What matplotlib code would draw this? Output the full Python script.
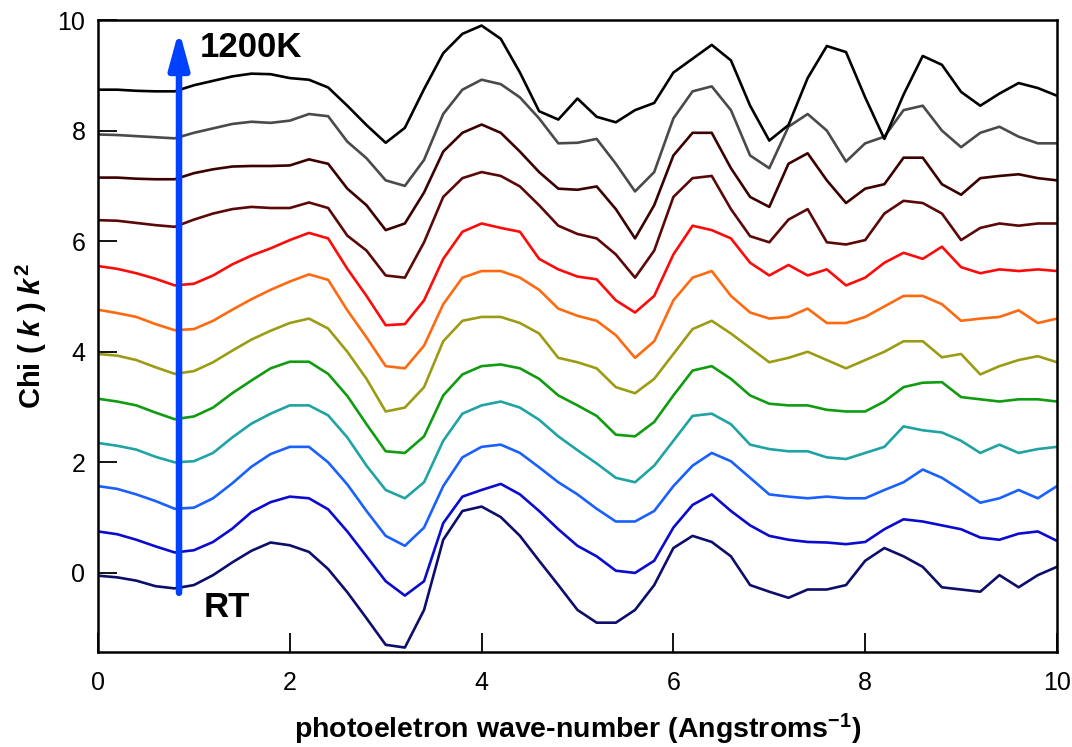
import numpy as np
import matplotlib
matplotlib.use('Agg')
import matplotlib.pyplot as plt

# fonts: Arial-like everywhere, bold for labels
plt.rcParams['font.family'] = ['Liberation Sans', 'DejaVu Sans']
plt.rcParams['mathtext.fontset'] = 'custom'
plt.rcParams['mathtext.rm'] = 'Liberation Sans:bold'
plt.rcParams['mathtext.bf'] = 'Liberation Sans:bold'
plt.rcParams['mathtext.it'] = 'Liberation Sans:bold:italic'

# photoelectron wave-number grid (1/Angstrom), one reading every 0.2
k = np.linspace(0, 10, 51)

# chi(k)*k^2 curves as drawn (already stacked), RT at bottom -> 1200K at top
chi_rt = [-0.05, -0.08, -0.14, -0.24, -0.28, -0.22, -0.04, 0.19, 0.40, 0.55, 0.50,
          0.38, 0.07, -0.35, -0.82, -1.30, -1.35, -0.67, 0.60, 1.12, 1.20,
          1.01, 0.67, 0.22, -0.22, -0.67, -0.90, -0.90, -0.67, -0.22, 0.45,
          0.67, 0.56, 0.30, -0.22, -0.34, -0.45, -0.30, -0.30, -0.22, 0.22,
          0.45, 0.30, 0.11, -0.26, -0.30, -0.34, -0.04, -0.26, -0.04, 0.11]
chi_t2 = [0.75, 0.70, 0.60, 0.48, 0.37, 0.41, 0.56, 0.80, 1.10, 1.28, 1.38,
          1.35, 1.15, 0.75, 0.30, -0.15, -0.41, -0.15, 0.90, 1.38, 1.50,
          1.61, 1.42, 1.12, 0.79, 0.49, 0.30, 0.04, 0.00, 0.22, 0.82,
          1.23, 1.42, 1.12, 0.86, 0.67, 0.60, 0.56, 0.55, 0.52, 0.56,
          0.79, 0.97, 0.93, 0.86, 0.79, 0.64, 0.60, 0.71, 0.75, 0.58]
chi_t3 = [1.57, 1.52, 1.42, 1.30, 1.16, 1.18, 1.35, 1.62, 1.92, 2.15, 2.28,
          2.28, 2.00, 1.60, 1.12, 0.67, 0.49, 0.82, 1.57, 2.09, 2.28,
          2.32, 2.17, 1.91, 1.64, 1.42, 1.16, 0.93, 0.93, 1.12, 1.57,
          1.94, 2.17, 2.02, 1.72, 1.42, 1.38, 1.35, 1.38, 1.35, 1.35,
          1.50, 1.64, 1.87, 1.72, 1.50, 1.27, 1.35, 1.50, 1.35, 1.57]
chi_t4 = [2.35, 2.30, 2.23, 2.10, 2.00, 2.02, 2.17, 2.45, 2.70, 2.88, 3.03,
          3.03, 2.85, 2.45, 1.94, 1.50, 1.35, 1.64, 2.39, 2.88, 3.03,
          3.10, 2.99, 2.77, 2.47, 2.22, 1.98, 1.72, 1.64, 1.94, 2.39,
          2.84, 2.88, 2.69, 2.32, 2.24, 2.20, 2.20, 2.09, 2.06, 2.17,
          2.28, 2.65, 2.58, 2.54, 2.39, 2.17, 2.32, 2.17, 2.24, 2.28]
chi_t5 = [3.15, 3.10, 3.03, 2.90, 2.78, 2.83, 2.99, 3.25, 3.48, 3.70, 3.82,
          3.82, 3.60, 3.20, 2.69, 2.20, 2.17, 2.47, 3.21, 3.59, 3.74,
          3.77, 3.70, 3.51, 3.21, 3.03, 2.84, 2.50, 2.47, 2.73, 3.21,
          3.66, 3.74, 3.51, 3.21, 3.06, 3.03, 3.03, 2.95, 2.92, 2.92,
          3.10, 3.36, 3.44, 3.45, 3.18, 3.14, 3.10, 3.14, 3.14, 3.10]
chi_t6 = [3.96, 3.93, 3.85, 3.72, 3.60, 3.65, 3.81, 4.02, 4.22, 4.38, 4.52,
          4.60, 4.42, 4.00, 3.51, 2.92, 2.99, 3.36, 4.19, 4.56, 4.63,
          4.63, 4.52, 4.33, 3.89, 3.81, 3.70, 3.36, 3.25, 3.51, 3.96,
          4.41, 4.56, 4.33, 4.07, 3.81, 3.89, 4.00, 3.85, 3.70, 3.85,
          4.00, 4.19, 4.19, 3.90, 3.96, 3.59, 3.74, 3.85, 3.92, 3.81]
chi_t7 = [4.76, 4.70, 4.63, 4.50, 4.39, 4.41, 4.56, 4.76, 4.95, 5.12, 5.27,
          5.40, 5.30, 4.75, 4.26, 3.74, 3.70, 4.11, 4.86, 5.34, 5.46,
          5.46, 5.34, 5.12, 4.78, 4.65, 4.56, 4.30, 3.89, 4.19, 4.93,
          5.34, 5.46, 5.01, 4.71, 4.60, 4.63, 4.78, 4.52, 4.52, 4.63,
          4.82, 5.01, 5.01, 4.86, 4.56, 4.60, 4.63, 4.75, 4.52, 4.60]
chi_t8 = [5.55, 5.50, 5.42, 5.32, 5.20, 5.23, 5.38, 5.58, 5.74, 5.87, 6.02,
          6.15, 6.05, 5.50, 5.01, 4.48, 4.50, 4.93, 5.68, 6.17, 6.32,
          6.24, 6.17, 5.68, 5.49, 5.36, 5.31, 4.93, 4.71, 5.01, 5.76,
          6.28, 6.20, 6.05, 5.61, 5.38, 5.57, 5.38, 5.49, 5.20, 5.34,
          5.61, 5.79, 5.68, 5.90, 5.53, 5.42, 5.49, 5.46, 5.49, 5.46]
chi_t9 = [6.38, 6.37, 6.33, 6.29, 6.26, 6.39, 6.50, 6.58, 6.62, 6.60, 6.60,
          6.70, 6.60, 6.10, 5.83, 5.38, 5.34, 5.98, 6.80, 7.14, 7.25,
          7.18, 6.99, 6.65, 6.28, 6.13, 6.05, 5.76, 5.34, 5.83, 6.80,
          7.14, 7.18, 6.58, 6.09, 5.98, 6.39, 6.58, 5.98, 5.94, 6.02,
          6.50, 6.73, 6.69, 6.50, 6.02, 6.24, 6.32, 6.28, 6.32, 6.32]
chi_t10 = [7.15, 7.15, 7.13, 7.12, 7.12, 7.23, 7.30, 7.35, 7.36, 7.36, 7.37,
           7.48, 7.40, 6.95, 6.65, 6.20, 6.32, 6.88, 7.62, 7.96, 8.11,
           7.96, 7.62, 7.25, 6.95, 6.93, 6.99, 6.58, 6.05, 6.65, 7.55,
           7.96, 7.96, 7.32, 6.80, 6.62, 7.40, 7.59, 7.10, 6.69, 6.95,
           7.03, 7.51, 7.51, 7.03, 6.84, 7.14, 7.18, 7.21, 7.14, 7.10]
chi_t11 = [7.93, 7.92, 7.90, 7.88, 7.86, 7.96, 8.04, 8.12, 8.16, 8.14, 8.18,
           8.30, 8.26, 7.80, 7.50, 7.10, 7.00, 7.47, 8.30, 8.74, 8.92,
           8.84, 8.60, 8.22, 7.77, 7.78, 7.85, 7.40, 6.90, 7.25, 8.22,
           8.71, 8.80, 8.37, 7.55, 7.32, 8.07, 8.30, 8.00, 7.44, 7.77,
           7.89, 8.37, 8.45, 8.00, 7.70, 7.96, 8.07, 7.89, 7.77, 7.77]
chi_1200 = [8.74, 8.74, 8.72, 8.71, 8.71, 8.82, 8.90, 8.98, 9.03, 9.02, 8.95,
            8.92, 8.78, 8.45, 8.10, 7.78, 8.05, 8.75, 9.40, 9.75, 9.90,
            9.66, 9.05, 8.35, 8.20, 8.58, 8.25, 8.15, 8.37, 8.50, 9.05,
            9.30, 9.55, 9.27, 8.45, 7.82, 8.10, 8.95, 9.53, 9.42, 8.60,
            7.85, 8.65, 9.35, 9.19, 8.70, 8.45, 8.67, 8.86, 8.77, 8.63]

curves = [chi_rt, chi_t2, chi_t3, chi_t4, chi_t5, chi_t6,
          chi_t7, chi_t8, chi_t9, chi_t10, chi_t11, chi_1200]
colors = ['#0d0d6b', '#0a0ad0', '#1a60ff', '#1fa3a3', '#109c10', '#9c9c14',
          '#ff6a10', '#ff0a0a', '#5c0808', '#3d0000', '#4a4a4a', '#000000']

fig = plt.figure(figsize=(10.72, 7.47), dpi=100)
ax = fig.add_axes([0.0914, 0.1272, 0.8946, 0.846])

for vals, c in zip(curves, colors):
    ax.plot(k, vals, color=c, lw=1.9)

# temperature arrow RT -> 1200K
ax.annotate('', xy=(0.845, 9.82), xytext=(0.845, -0.36),
            arrowprops=dict(arrowstyle='-|>,head_length=1.1,head_width=0.3',
                            color='#0040ff', lw=4.7, mutation_scale=20,
                            shrinkA=0, shrinkB=0))
ax.text(1.06, 9.51, '1200K', fontsize=25, fontweight='bold', va='center', ha='left')
ax.text(1.1, -0.63, 'RT', fontsize=25, fontweight='bold', va='center', ha='left')

ax.set_xlim(0, 10)
ax.set_ylim(-1.43, 10)
ax.set_xticks([0, 2, 4, 6, 8, 10])
ax.set_yticks([0, 2, 4, 6, 8, 10])
ax.tick_params(direction='in', length=14, width=1.3, labelsize=18,
               top=False, right=False)
ax.tick_params(axis='x', pad=14)
ax.tick_params(axis='y', pad=9)
for s in ax.spines.values():
    s.set_linewidth(1.8)

ax.set_xlabel('photoeletron wave-number (Angstroms$^{\\mathrm{-1}}$)',
              fontsize=20.5, fontweight='bold', labelpad=12)
ax.set_ylabel(r'Chi ( $\mathit{k}$ ) $\mathit{k}^{\mathrm{2}}$',
              fontsize=21, fontweight='bold', labelpad=6)

fig.savefig('out.png', dpi=100)
